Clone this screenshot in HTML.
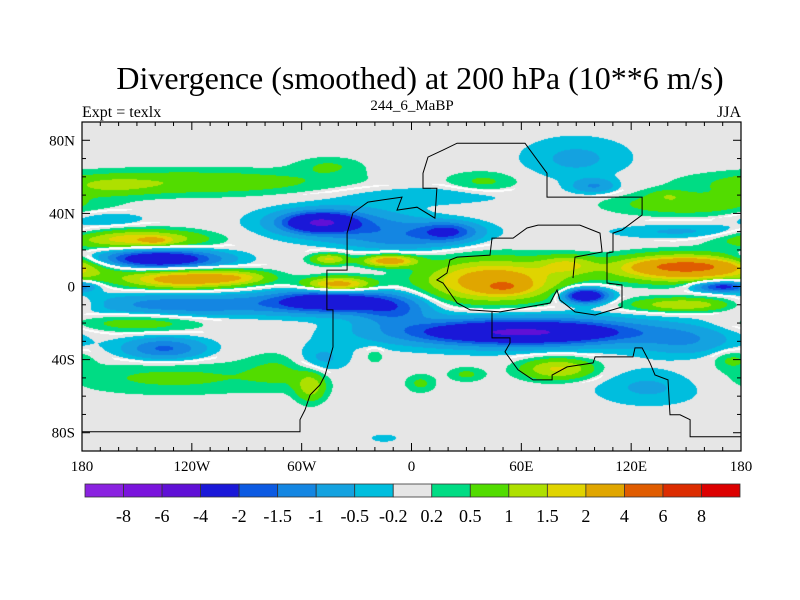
<!DOCTYPE html>
<html><head><meta charset="utf-8">
<style>
body{margin:0;background:#fff;width:800px;height:600px;overflow:hidden;font-family:"Liberation Serif",serif;}
#wrap{position:relative;width:800px;height:600px;}
canvas{position:absolute;left:82px;top:122px;}
svg{position:absolute;left:0;top:0;}
</style></head><body>
<div id="wrap">
<canvas id="cv" width="659" height="329"></canvas>
<svg id="sv" width="800" height="600">
<text x="420" y="89" text-anchor="middle" font-size="32" font-family="Liberation Serif, serif">Divergence (smoothed) at 200 hPa (10**6 m/s)</text>
<text x="82" y="117" font-size="16" font-family="Liberation Serif, serif">Expt = texlx</text>
<text x="412" y="110" text-anchor="middle" font-size="15" font-family="Liberation Serif, serif">244_6_MaBP</text>
<text x="741" y="117" text-anchor="end" font-size="16" font-family="Liberation Serif, serif">JJA</text>
</svg>
</div>
<script>
// color levels
const levels = [-8,-6,-4,-2,-1.5,-1,-0.5,-0.2,0.2,0.5,1,1.5,2,4,6,8];
const levelLabels = ["-8","-6","-4","-2","-1.5","-1","-0.5","-0.2","0.2","0.5","1","1.5","2","4","6","8"];
const colors = ["#8a22e0","#7a14dc","#6010d6","#1a18d8","#0c5ae2","#1486e2","#14a2e0","#00bede","#e6e6e6","#00dc84","#52dc00","#aee000","#e0d400","#e0a600","#e05c00","#dc2c00","#dc0000"];
// field features: lon, lat, lon radius, lat radius, amplitude
const blobLon = [-120,-165,-45,-165,-150,-140,-138,-125,-95,-120,-45,-10,-150,-135,-130,-70,-55,-50,-50,-40,20,0,10,40,90,100,150,140,150,-45,-12,-40,45,50,85,95,150,150,170,150,60,60,80,130,-20,5,30,-15,175,150,-5];
const blobLat = [57,55,66,37,26,25,15,4,5,-10,-8,-12,-20,-34,-50,-45,-55,-40,35,35,30,30,50,57,70,55,45,50,30,15,14,1,3,0,12,-5,10,11,0,-10,-25,-25,-45,-55,-38,-53,-48,-83,-40,-30,24];
const blobRx = [80,25,18,20,35,8,32,30,20,60,30,20,35,22,60,20,8,15,18,40,15,40,50,20,30,12,40,10,40,10,14,18,36,10,15,12,38,20,15,30,55,80,20,30,5,8,10,7,10,25,30];
const blobRy = [7,5,5,4,5,2,5,5,4,6,6,8,5,6,9,10,8,8,5,9,5,6,5,6,12,4,6,3,4,3,3,4,11,3,5,4,7,3,3,4,6,10,6,10,4,5,4,2,5,8,5];
const blobVal = [0.9,0.6,0.5,-0.5,1.9,0.8,-3.2,2.6,1.2,-1.4,-3,-1.5,0.8,-1.6,0.6,0.5,1.2,-0.7,-3.2,-1.2,-1.6,-0.8,-0.5,0.6,-0.6,-1.0,0.9,0.5,-0.6,1.6,2.6,2.6,2.7,2.5,1.2,-3.5,3.2,2.5,-2.5,1.6,-3.3,-1,1.6,-0.6,0.5,0.6,0.6,-0.5,0.6,-0.8,-0.7];
// coastline outlines (lon, lat)
const coastA_lon=[-180,-60.9,-60.9,-58.2,-55.4,-50,-47.2,-42.9,-42.9,-46.2,-46.2,-35.2,-35.2,-32,-23.8,-5.2,-7.9,3,12.8,13.9,6.3,6.3,9,17.2,24.9,62,74,74,126,126,115,110.1,110.1,106.8,106.8,115,115,100.3,89.3,81.1,79.5,75.7,48.4,32,24.9,17.2,13.9,19.4,21,24.9,42.9,44,55.5,63.1,69.1,92,103,104.1,89.3,88.2];
const coastA_lat=[-79.5,-79.5,-72.9,-67.5,-59.3,-53.8,-48.4,-33.1,-12.8,-12.8,9,9,29.2,40.2,46.2,48.9,41.8,43.4,37.4,53.8,53.8,62,70.8,74.6,78.4,78.4,62,48.9,48.9,39.1,30.9,29.2,18.9,18.3,1.9,0.8,-11.2,-15.6,-13.9,-7.4,-1.9,-9,-13.9,-12.8,-9,1.9,3.6,7.4,14.5,16.1,17.2,26.5,26.5,32,33.6,33.6,29.2,18.9,16.1,4.6];
const coastB_lon=[44,44,53.8,53.8,51.1,58.2,66.4,76.8,76.8,85,99.2,100.3,121,122.1,126,130.3,133,140.1,141.2,146.7,152.2,152.2,180];
const coastB_lat=[-13.9,-28.1,-28.1,-30.9,-35.8,-45.6,-51.1,-51.1,-48.4,-44,-41.8,-38.5,-38.5,-33.6,-33.6,-41.8,-48.4,-51.1,-70.2,-70.2,-72.9,-82.2,-82.2];
const lonTicks=[-180,-120,-60,0,60,120,180];
const lonTickLabels=["180","120W","60W","0","60E","120E","180"];
const latTicks=[80,40,0,-40,-80];
const latTickLabels=["80N","40N","0","40S","80S"];

const X0=82,X1=741,Y0=122,Y1=451;
function xOf(lon){return X0+(lon+180)/360*(X1-X0);}
function yOf(lat){return Y0+(90-lat)/180*(Y1-Y0);}
function lonOfPx(px){return px/(X1-X0)*360-180;}
function latOfPx(py){return 90-py/(Y1-Y0)*180;}
function hex(c){return [parseInt(c.substr(1,2),16),parseInt(c.substr(3,2),16),parseInt(c.substr(5,2),16)];}
const rgb=colors.map(hex);
function field(lon,lat){
  let v=0;
  for(let i=0;i<blobVal.length;i++){
    let dl=lon-blobLon[i]; if(dl>180)dl-=360; if(dl<-180)dl+=360;
    const a=dl/blobRx[i], b=(lat-blobLat[i])/blobRy[i];
    const e=a*a+b*b; if(e<12) v+=blobVal[i]*Math.exp(-e);
  }
  return v;
}
function levelIdx(v){let k=0;while(k<levels.length&&v>=levels[k])k++;return k;}
const cv=document.getElementById('cv'),ctx=cv.getContext('2d');
const W=cv.width,H=cv.height;
const F=new Float32Array(W*H);
for(let j=0;j<H;j++){const lat=latOfPx(j+0.5);for(let i=0;i<W;i++){F[j*W+i]=field(lonOfPx(i+0.5),lat);}}
const img=ctx.createImageData(W,H);
for(let j=0;j<H;j++)for(let i=0;i<W;i++){
  const v=F[j*W+i];let c=rgb[levelIdx(v)];
  const r=i+2<W?F[j*W+i+2]:v, d=j+2<H?F[(j+2)*W+i]:v;
  if((v>0)!==(r>0)&&Math.abs(v-r)>0.08 || (v>0)!==(d>0)&&Math.abs(v-d)>0.08) c=[255,255,255];
  const p=(j*W+i)*4;img.data[p]=c[0];img.data[p+1]=c[1];img.data[p+2]=c[2];img.data[p+3]=255;
}
ctx.putImageData(img,0,0);

const NS='http://www.w3.org/2000/svg',sv=document.getElementById('sv');
function mk(tag,attrs){const e=document.createElementNS(NS,tag);for(const k in attrs)e.setAttribute(k,attrs[k]);sv.appendChild(e);return e;}
function coast(lons,lats,name){
  const pts=lons.map((l,i)=>xOf(l).toFixed(1)+','+yOf(lats[i]).toFixed(1)).join(' ');
  const e=mk('polyline',{points:pts,fill:'none',stroke:'#000','stroke-width':1});
  
  
}
coast(coastA_lon,coastA_lat,'coastline-north');
coast(coastB_lon,coastB_lat,'coastline-south');
const fr=mk('rect',{x:X0,y:Y0,width:X1-X0,height:Y1-Y0,fill:'none',stroke:'#000','stroke-width':1.2});


for(let lon=-180;lon<=180;lon+=10){
  const x=xOf(lon),L=(lon%60===0)?8:4;
  mk('line',{x1:x,y1:Y1,x2:x,y2:Y1-L,stroke:'#000'});
  mk('line',{x1:x,y1:Y0,x2:x,y2:Y0+L,stroke:'#000'});
}
for(let lat=-90;lat<=90;lat+=10){
  const y=yOf(lat),L=(lat%40===0)?8:4;
  mk('line',{x1:X0,y1:y,x2:X0+L,y2:y,stroke:'#000'});
  mk('line',{x1:X1,y1:y,x2:X1-L,y2:y,stroke:'#000'});
}
lonTicks.forEach((l,i)=>{
  const t=mk('text',{x:xOf(l),y:471,'text-anchor':'middle','font-size':15,'font-family':'Liberation Serif, serif'});
  t.textContent=lonTickLabels[i];
  
  
});
latTicks.forEach((l,i)=>{
  const t=mk('text',{x:75,y:yOf(l)+5,'text-anchor':'end','font-size':15,'font-family':'Liberation Serif, serif'});
  t.textContent=latTickLabels[i];
  
  
});
const CB0=85,CB1=740,CBy=484,CBh=13,bw=(CB1-CB0)/colors.length;
colors.forEach((c,i)=>{
  const r=mk('rect',{x:CB0+i*bw,y:CBy,width:bw,height:CBh,fill:c,stroke:'#333','stroke-width':0.8});
  
  
});
levelLabels.forEach((s,i)=>{
  const t=mk('text',{x:CB0+(i+1)*bw,y:522,'text-anchor':'middle','font-size':18,'font-family':'Liberation Serif, serif'});
  t.textContent=s;
  
  
});
</script>
</body></html>
